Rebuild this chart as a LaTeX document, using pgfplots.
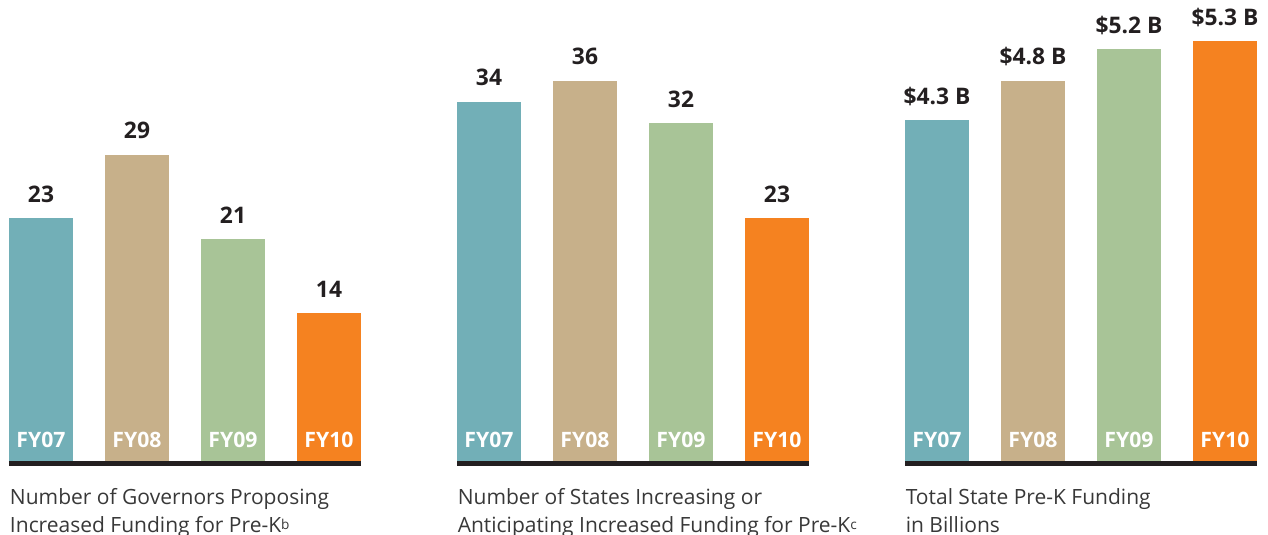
\documentclass[border=0pt]{standalone}
\usepackage{pgfplots}
\pgfplotsset{compat=1.18}
\usepackage{fontspec}
\setmainfont{Open Sans}
\definecolor{cteal}{HTML}{72AFB7}
\definecolor{ctan}{HTML}{C7B08A}
\definecolor{cgreen}{HTML}{A8C497}
\definecolor{corange}{HTML}{F58220}
\definecolor{cdark}{HTML}{231F20}
\definecolor{ccap}{HTML}{383838}
\newcommand\valfont{\fontsize{11.4}{12}\selectfont\bfseries}
\newcommand\fyfont{\fontsize{10.6}{12}\selectfont\bfseries}
\newcommand\capfont{\fontsize{10.5}{13.5}\selectfont}
\newcommand\supb[1]{{\fontsize{6.8}{7}\selectfont\raisebox{1.3pt}{#1}}}
\pgfplotsset{panel/.style={
  scale only axis, width=176pt, height=230.5pt,
  xmin=-0.33333, xmax=3.33333, ymin=0,
  axis line style={draw=none}, xtick=\empty, ytick=\empty,
  clip=false, anchor=south west,
  every axis plot/.append style={ybar, bar width=0.66667, bar shift=0pt, draw=none,
     nodes near coords, point meta=explicit symbolic,
     every node near coord/.style={anchor=base, yshift=8pt, font=\valfont, text=cdark, inner sep=0pt}},
  },
}
\tikzset{fylab/.style={anchor=base, yshift=6.5pt, text=white, font=\fyfont, inner sep=0pt}}
\newcommand\panelbase{\draw[cdark, line width=2.75pt] ([yshift=-1.375pt]axis cs:-0.33333,0) -- ([yshift=-1.375pt]axis cs:3.33333,0);
  \node[fylab] at (axis cs:0,0) {FY07};
  \node[fylab] at (axis cs:1,0) {FY08};
  \node[fylab] at (axis cs:2,0) {FY09};
  \node[fylab] at (axis cs:3,0) {FY10};}
\begin{document}
\begin{tikzpicture}
\path[use as bounding box] (0,0) rectangle (634pt,267.5pt);
% Panel 1
\begin{axis}[panel, at={(4.5pt,37pt)}, ymax=43.66]
\addplot[fill=cteal] coordinates {(0,23) [23]};
\addplot[fill=ctan] coordinates {(1,29) [29]};
\addplot[fill=cgreen] coordinates {(2,21) [21]};
\addplot[fill=corange] coordinates {(3,14) [14]};
\panelbase
\end{axis}
% Panel 2
\begin{axis}[panel, at={(228.5pt,37pt)}, ymax=43.66]
\addplot[fill=cteal] coordinates {(0,34) [34]};
\addplot[fill=ctan] coordinates {(1,36) [36]};
\addplot[fill=cgreen] coordinates {(2,32) [32]};
\addplot[fill=corange] coordinates {(3,23) [23]};
\panelbase
\end{axis}
% Panel 3
\begin{axis}[panel, at={(452.5pt,37pt)}, ymax=5.82]
\addplot[fill=cteal] coordinates {(0,4.3) [\$4.3 B]};
\addplot[fill=ctan] coordinates {(1,4.8) [\$4.8 B]};
\addplot[fill=cgreen] coordinates {(2,5.2) [\$5.2 B]};
\addplot[fill=corange] coordinates {(3,5.3) [\$5.3 B]};
\panelbase
\end{axis}
% Captions
\node[anchor=base west, inner sep=0pt, font=\capfont, text=ccap] at (4.8pt,15pt) {Number of Governors Proposing};
\node[anchor=base west, inner sep=0pt, font=\capfont, text=ccap] at (4.8pt,1.5pt) {Increased Funding for Pre-K\supb{b}};
\node[anchor=base west, inner sep=0pt, font=\capfont, text=ccap] at (228.7pt,15pt) {Number of States Increasing or};
\node[anchor=base west, inner sep=0pt, font=\capfont, text=ccap] at (228.7pt,1.5pt) {Anticipating Increased Funding for Pre-K\supb{c}};
\node[anchor=base west, inner sep=0pt, font=\capfont, text=ccap] at (452.7pt,15pt) {Total State Pre-K Funding};
\node[anchor=base west, inner sep=0pt, font=\capfont, text=ccap] at (452.7pt,1.5pt) {in Billions};
\end{tikzpicture}
\end{document}
